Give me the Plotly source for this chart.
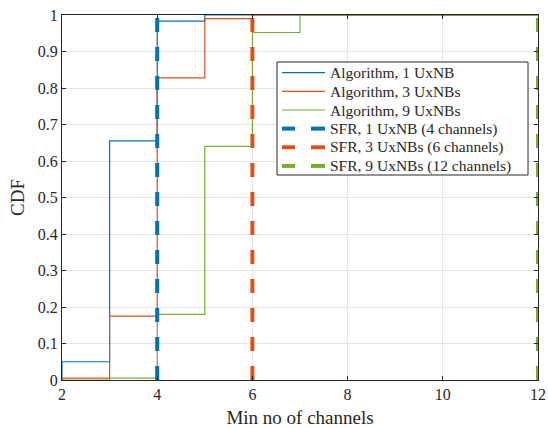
import plotly.graph_objects as go

# Empirical CDF step data (min no of channels)
x_alg1 = [2, 2, 3, 4, 5, 12]
y_alg1 = [0, 0.05, 0.655, 0.983, 1.0, 1.0]
x_alg3 = [2, 2, 3, 4, 5, 6, 12]
y_alg3 = [0, 0.005, 0.175, 0.828, 0.99, 1.0, 1.0]
x_alg9 = [2, 3, 4, 5, 6, 7, 12]
y_alg9 = [0, 0.005, 0.18, 0.64, 0.952, 1.0, 1.0]

# SFR channel counts
sfr_channels = [4, 6, 12]
sfr_cdf = [0, 1]

names_alg = ["Algorithm, 1 UxNB", "Algorithm, 3 UxNBs", "Algorithm, 9 UxNBs"]
names_sfr = ["SFR, 1 UxNB (4 channels)", "SFR, 3 UxNBs (6 channels)", "SFR, 9 UxNBs (12 channels)"]
colors = ["#0072BD", "#D95319", "#77AC30"]

x_ticks = [2, 4, 6, 8, 10, 12]
y_ticks = [0, 0.1, 0.2, 0.3, 0.4, 0.5, 0.6, 0.7, 0.8, 0.9, 1]
y_ticktext = ["0", "0.1", "0.2", "0.3", "0.4", "0.5", "0.6", "0.7", "0.8", "0.9", "1"]

W, H = 548, 428
L, R, T, B = 62, 538, 15, 380
font = "Liberation Serif, Times New Roman, serif"
txtc = "#262626"

fig = go.Figure()
for xs, ys, nm, c in zip([x_alg1, x_alg3, x_alg9], [y_alg1, y_alg3, y_alg9], names_alg, colors):
    fig.add_trace(go.Scatter(x=xs, y=ys, mode="lines", name=nm, showlegend=False,
                             line=dict(color=c, width=1.2, shape="hv")))
for xc, nm, c in zip(sfr_channels, names_sfr, colors):
    fig.add_trace(go.Scatter(x=[xc, xc], y=sfr_cdf, mode="lines", name=nm, cliponaxis=False, showlegend=False,
                             line=dict(color=c, width=4, dash="14px,15px")))

axis_common = dict(showline=True, linecolor=txtc, linewidth=1, mirror="ticks",
                   ticks="inside", ticklen=4, tickcolor=txtc, automargin=False,
                   ticklabeloverflow="allow",
                   showgrid=True, gridcolor="#e3e3e3", gridwidth=1, zeroline=False,
                   tickfont=dict(family=font, size=16, color=txtc))
fig.update_xaxes(range=[2, 12], tickvals=x_ticks,
                 title=dict(text="Min no of channels", font=dict(family=font, size=19, color=txtc), standoff=14),
                 **axis_common)
fig.update_yaxes(range=[0, 1], tickvals=y_ticks, ticktext=y_ticktext,
                 title=dict(text="CDF", font=dict(family=font, size=19, color=txtc), standoff=8),
                 **axis_common)

# Manual legend (MATLAB style) in paper coordinates (pixel positions)
def px(xp):
    return (xp - L) / (R - L)

def py(yp):
    return (B - yp) / (B - T)

shapes = [dict(type="rect", xref="paper", yref="paper", x0=px(277), x1=px(528), y0=py(175), y1=py(62),
               line=dict(color=txtc, width=1), fillcolor="white", layer="above")]
annotations = []
row_y = [72.7, 91.3, 110, 128.6, 147.3, 165.9]
for i, (nm, c) in enumerate(zip(names_alg + names_sfr, colors + colors)):
    yy = py(row_y[i])
    if i < 3:
        shapes.append(dict(type="line", xref="paper", yref="paper", x0=px(282), x1=px(325), y0=yy, y1=yy,
                           line=dict(color=c, width=1.2), layer="above"))
    else:
        for a, b in [(282, 295), (311, 325)]:
            shapes.append(dict(type="line", xref="paper", yref="paper", x0=px(a), x1=px(b), y0=yy, y1=yy,
                               line=dict(color=c, width=4), layer="above"))
    annotations.append(dict(xref="paper", yref="paper", x=px(328), y=yy, xanchor="left", yanchor="middle",
                            text=nm, showarrow=False, font=dict(family=font, size=15.5, color=txtc)))

fig.update_layout(
    width=W, height=H,
    margin=dict(l=L, r=W - R, t=T, b=H - B),
    paper_bgcolor="white", plot_bgcolor="white",
    font=dict(family=font, size=16, color=txtc),
    showlegend=False,
    shapes=shapes, annotations=annotations,
)
fig.write_html("out.html", config={"displayModeBar": False},
               post_script="document.body.style.margin='0';document.body.style.overflow='hidden';")
